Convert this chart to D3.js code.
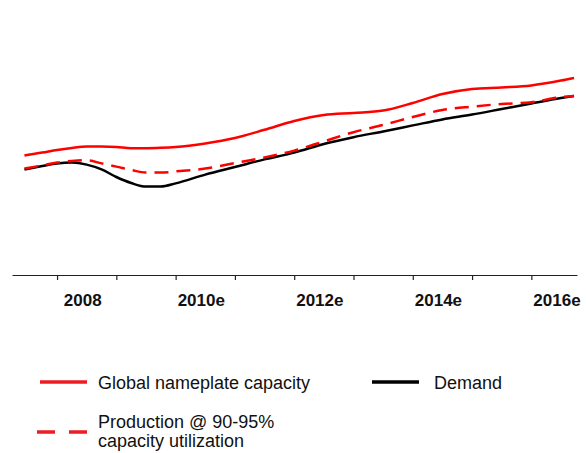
<!DOCTYPE html>
<html>
<head>
<meta charset="utf-8">
<script src="https://cdn.jsdelivr.net/npm/d3@7"></script>
<style>
  body { margin: 0; background: #fff; }
  text { font-family: "Liberation Sans", Arial, sans-serif; }
</style>
</head>
<body>
<div id="chart-area"></div>
<script>
// Data (decimal years)
var years = [2007.45, 2007.75, 2008.0, 2008.25, 2008.5, 2008.75, 2009.0, 2009.25, 2009.5, 2009.75,
    2010.0, 2010.5, 2011.0, 2011.5, 2012.0, 2012.5, 2013.0, 2013.5, 2014.0, 2014.5,
    2015.0, 2015.5, 2016.0, 2016.5, 2016.72];

var capacity = [29.9, 30.6, 31.25, 31.75, 32.1, 32.1, 32.0, 31.7, 31.7, 31.8,
    32.0, 32.9, 34.25, 36.3, 38.5, 40.0, 40.5, 41.1, 43.0, 45.25,
    46.5, 46.9, 47.4, 48.6, 49.25];

var production = [26.6, 27.4, 28.1, 28.5, 28.7, 27.9, 27.1, 26.25, 25.6, 25.6,
    25.9, 26.6, 28.0, 29.4, 31.1, 33.4, 35.7, 37.5, 39.5, 41.25,
    42.1, 42.75, 43.2, 44.5, 44.75];

var demand = [26.4, 27.25, 27.9, 28.1, 27.6, 26.4, 24.5, 23.0, 22.1, 22.1,
    22.9, 25.1, 27.0, 28.9, 30.6, 32.75, 34.45, 35.9, 37.4, 38.9,
    40.1, 41.5, 42.9, 44.25, 44.75];

var tickYears = [2008, 2009, 2010, 2011, 2012, 2013, 2014, 2015, 2016];
var labelYears = [2008, 2010, 2012, 2014, 2016];
var labelTexts = ["2008", "2010e", "2012e", "2014e", "2016e"];

var width = 586, height = 453;

var svg = d3.select("#chart-area").append("svg")
    .attr("width", width)
    .attr("height", height);

// Scales
var x = d3.scaleLinear().domain([2007.24, 2016.77]).range([12, 577]);
var y = d3.scaleLinear().domain([0, 60]).range([275, 35]);

// Axis
var xAxisCall = d3.axisBottom(x)
    .tickValues(tickYears)
    .tickSize(5)
    .tickSizeOuter(0)
    .tickFormat("");

var xAxis = svg.append("g")
    .attr("class", "x axis")
    .attr("transform", "translate(0," + y(0) + ")")
    .call(xAxisCall);
xAxis.select(".domain").attr("stroke", "#222").attr("stroke-width", 1.2);
xAxis.selectAll(".tick line").attr("stroke", "#222").attr("stroke-width", 1.2);

svg.selectAll(".year-label")
    .data(labelYears)
    .enter().append("text")
    .attr("class", "year-label")
    .attr("x", function(d) { return x(d + 0.5) - 4; })
    .attr("y", 306)
    .attr("text-anchor", "middle")
    .attr("font-size", "17px")
    .attr("font-weight", "bold")
    .attr("fill", "#111")
    .text(function(d, i) { return labelTexts[i]; });

// Lines
function lineFor(values) {
    return d3.line()
        .x(function(d, i) { return x(years[i]); })
        .y(function(d) { return y(d); })
        .curve(d3.curveMonotoneX)(values);
}

svg.append("path")
    .attr("fill", "none")
    .attr("stroke", "#000")
    .attr("stroke-width", 2.5)
    .attr("d", lineFor(demand));

svg.append("path")
    .attr("fill", "none")
    .attr("stroke", "#ff0000")
    .attr("stroke-width", 2.5)
    .attr("stroke-dasharray", "14,8")
    .attr("d", lineFor(production));

svg.append("path")
    .attr("fill", "none")
    .attr("stroke", "#ff0000")
    .attr("stroke-width", 2.5)
    .attr("d", lineFor(capacity));

// Legend
var legend = svg.append("g").attr("class", "legend");

legend.append("line")
    .attr("x1", 40).attr("x2", 87).attr("y1", 382).attr("y2", 382)
    .attr("stroke", "#ee1c25").attr("stroke-width", 3.5);
legend.append("text")
    .attr("x", 98).attr("y", 389)
    .attr("font-size", "18px").attr("fill", "#111")
    .text("Global nameplate capacity");

legend.append("line")
    .attr("x1", 372).attr("x2", 419).attr("y1", 382).attr("y2", 382)
    .attr("stroke", "#000").attr("stroke-width", 3.5);
legend.append("text")
    .attr("x", 434).attr("y", 389)
    .attr("font-size", "18px").attr("fill", "#111")
    .text("Demand");

legend.append("line")
    .attr("x1", 37).attr("x2", 88).attr("y1", 432).attr("y2", 432)
    .attr("stroke", "#ee1c25").attr("stroke-width", 3.5)
    .attr("stroke-dasharray", "18,14");
legend.append("text")
    .attr("x", 98).attr("y", 428)
    .attr("font-size", "18px").attr("fill", "#111")
    .text("Production @ 90-95%");
legend.append("text")
    .attr("x", 98).attr("y", 447)
    .attr("font-size", "18px").attr("fill", "#111")
    .text("capacity utilization");
</script>
</body>
</html>
